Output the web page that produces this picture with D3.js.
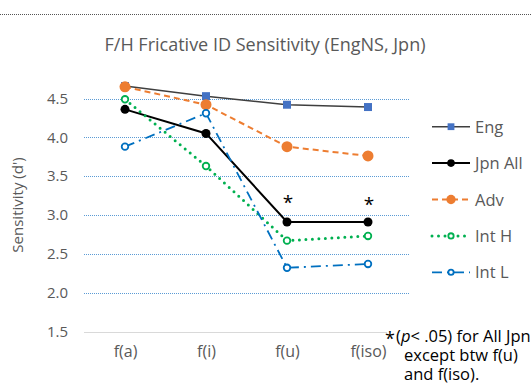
<!DOCTYPE html>
<html><head><meta charset="utf-8">
<script src="https://cdn.jsdelivr.net/npm/d3@7"></script>
<style>body{margin:0;background:#fff}svg{display:block;font-family:"Open Sans",sans-serif}</style>
</head><body>
<svg id="c" width="531" height="392"></svg>
<script>
const categories = ["f(a)","f(i)","f(u)","f(iso)"];
const seriesNames = ["Eng","Jpn All","Adv","Int H","Int L"];
const engValues = [4.66, 4.53, 4.42, 4.39];
const jpnAllValues = [4.36, 4.05, 2.91, 2.91];
const advValues = [4.65, 4.42, 3.88, 3.76];
const intHValues = [4.49, 3.63, 2.67, 2.73];
const intLValues = [3.88, 4.31, 2.32, 2.37];
const yTicks = [1.5, 2.0, 2.5, 3.0, 3.5, 4.0, 4.5];
const sigCategories = ["f(u)","f(iso)"];
const sigLabel = "*";
const title = "F/H Fricative ID Sensitivity (EngNS, Jpn)";
const yLabel = "Sensitivity (d')";
const footnote = ["(p< .05) for All Jpn","except btw f(u)","and f(iso)."];

const FONT = "'Open Sans', sans-serif";
const svg = d3.select("#c");
const x = d3.scalePoint().domain(categories).range([125, 368]);
const y = d3.scaleLinear().domain([1.5, 4.5]).range([331.5, 98.5]);
const plotL = 84, plotR = 409;

// top dotted border
svg.append("line").attr("x1",0).attr("x2",531).attr("y1",14.5).attr("y2",14.5)
  .attr("stroke","#555").attr("stroke-dasharray","1,1");

svg.append("text").attr("x",265).attr("y",51).attr("text-anchor","middle")
  .attr("font-size",18).attr("fill","#595959").text(title);

// grid
yTicks.forEach(t => {
  const yy = Math.round(y(t)) + 0.5;
  if (t === 1.5) {
    svg.append("line").attr("x1",plotL).attr("x2",plotR).attr("y1",yy).attr("y2",yy)
      .attr("stroke","#d9d9d9").attr("stroke-width",1);
  } else {
    svg.append("line").attr("x1",plotL).attr("x2",plotR).attr("y1",yy).attr("y2",yy)
      .attr("stroke","#5b9bd5").attr("stroke-width",1).attr("stroke-dasharray","1,1");
  }
});
const yAxis = d3.axisLeft(y).tickValues(yTicks).tickFormat(d3.format(".1f")).tickSize(0).tickPadding(0);
const ya = svg.append("g").attr("transform","translate(68,0)").call(yAxis);
ya.select(".domain").remove();
ya.selectAll("text").attr("font-size",15).attr("fill","#595959").attr("font-family",FONT);

const xAxis = d3.axisBottom(x).tickSize(0).tickPadding(0);
const xa = svg.append("g").attr("transform","translate(0,346)").call(xAxis);
xa.select(".domain").remove();
xa.selectAll("text").attr("font-size",16).attr("fill","#595959").attr("font-family",FONT);

svg.append("text").attr("transform","translate(23,205) rotate(-90)").attr("text-anchor","middle")
  .attr("font-size",15).attr("fill","#595959").text(yLabel);

const series = [
  {name:"Eng", values:engValues, color:"#3f3f3f", width:1.5, dash:null, marker:"square", mcolor:"#4472c4", fill:"#4472c4", r:4},
  {name:"Jpn All", values:jpnAllValues, color:"#000", width:2, dash:null, marker:"circle", mcolor:"#000", fill:"#000", r:4.5},
  {name:"Adv", values:advValues, color:"#ed7d31", width:2, dash:"6,4", marker:"circle", mcolor:"#ed7d31", fill:"#ed7d31", r:5.5},
  {name:"Int H", values:intHValues, color:"#00b050", width:3, dash:"0,6.5", cap:"round", marker:"open", mcolor:"#00b050", fill:"#fff", r:4.2},
  {name:"Int L", values:intLValues, color:"#0070c0", width:1.8, dash:"10,5,2,5", marker:"open", mcolor:"#0070c0", fill:"#fff", r:4.2}
];
const line = d3.line().x((d,i)=>x(categories[i])).y(d=>y(d));
function marker(g, s, cx, cy, scale) {
  const r = s.r*scale;
  if (s.marker === "square") {
    g.append("rect").attr("x",cx-r).attr("y",cy-r).attr("width",2*r).attr("height",2*r).attr("fill",s.fill);
  } else if (s.marker === "circle") {
    g.append("circle").attr("cx",cx).attr("cy",cy).attr("r",r).attr("fill",s.fill);
  } else {
    g.append("circle").attr("cx",cx).attr("cy",cy).attr("r",r-0.9).attr("fill","#fff").attr("stroke",s.mcolor).attr("stroke-width",1.8);
  }
}
series.forEach(s => {
  svg.append("path").attr("d", line(s.values)).attr("fill","none").attr("stroke",s.color)
    .attr("stroke-width",s.width).attr("stroke-dasharray",s.dash).attr("stroke-linecap",s.cap||"butt");
  s.values.forEach((v,i)=>marker(svg, s, x(categories[i]), y(v), 1));
});

// significance asterisks
sigCategories.forEach((c,i) => {
  svg.append("text").attr("x",x(c)+1).attr("y", y(jpnAllValues[categories.indexOf(c)]) - 13 + i*2)
    .attr("text-anchor","middle").attr("font-size",19).attr("fill","#000").text(sigLabel);
});

// legend
const lg = svg.append("g");
series.forEach((s,i) => {
  const yy = 126.7 + i*36.4;
  lg.append("line").attr("x1",432).attr("x2",470).attr("y1",yy).attr("y2",yy).attr("stroke",s.color)
    .attr("stroke-width",s.width).attr("stroke-dasharray",s.dash).attr("stroke-linecap",s.cap||"butt");
  marker(lg, s, 451, yy, 0.85);
  lg.append("text").attr("x",475).attr("y",yy+6).attr("font-size",16.5).attr("fill","#595959").text(s.name);
});

// footnote
const fn = svg.append("g");
fn.append("rect").attr("x",387).attr("y",325).attr("width",146).attr("height",62).attr("fill","#fff");
fn.append("text").attr("x",385).attr("y",345).attr("font-size",18).attr("fill","#000").text("*");
const t0 = fn.append("text").attr("x",396).attr("y",342).attr("font-size",16.5).attr("fill","#000");
t0.append("tspan").text("(");
t0.append("tspan").attr("font-style","italic").text("p");
t0.append("tspan").text("< .05) for All Jpn");
fn.append("text").attr("x",404).attr("y",361).attr("font-size",16.5).attr("fill","#000").text(footnote[1]);
fn.append("text").attr("x",404).attr("y",380).attr("font-size",16.5).attr("fill","#000").text(footnote[2]);
</script>
</body></html>
